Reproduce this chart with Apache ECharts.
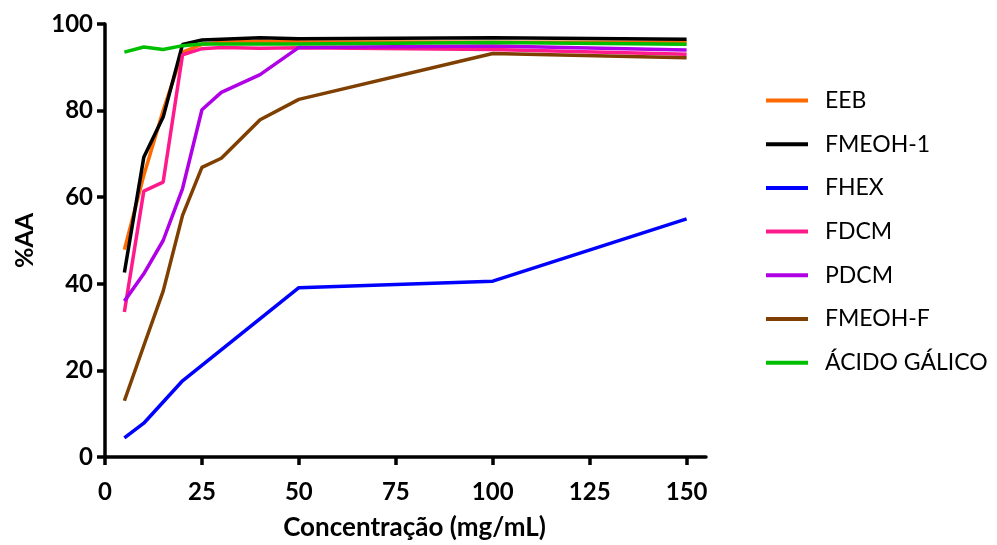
<!DOCTYPE html>
<html>
<head>
<meta charset="utf-8">
<script src="https://cdn.jsdelivr.net/npm/echarts@6/dist/echarts.min.js"></script>
<style>
  html, body { margin: 0; padding: 0; background: #fff; }
  #chart { width: 997px; height: 545px; }
</style>
</head>
<body>
<div id="chart"></div>
<script>
// Concentrations (mg/mL) and antioxidant activity (%AA) for each extract / fraction
const concentracao = [5, 10, 15, 20, 25, 30, 40, 50, 100, 150];
const xTicks = [0, 25, 50, 75, 100, 125, 150];

const eeb        = [47.9, 65.0, 80.0, 93.5, 95.3, 95.8, 96.0, 95.9, 95.8, 95.8];
const fmeoh1     = [42.6, 69.2, 78.5, 95.3, 96.3, 96.5, 96.8, 96.6, 96.8, 96.5];
const fhex       = [4.4, 7.8, null, 17.6, null, null, null, 39.1, 40.6, 55.0];
const fdcm       = [33.5, 61.4, 63.5, 92.9, 94.3, 94.6, 94.4, 94.5, 94.1, 93.0];
const pdcm       = [36.0, 42.3, 50.0, 62.0, 80.2, 84.2, 88.3, 94.6, 94.9, 94.0];
const fmeohF     = [13.0, 25.7, 38.3, 55.8, 66.9, 69.0, 77.9, 82.6, 93.2, 92.2];
const acidoGalico = [93.5, 94.7, 94.1, 95.0, 95.4, 95.4, 95.4, 95.4, 95.7, 95.3];

const seriesDefs = [
  { name: 'EEB', data: eeb, color: '#FF6A00' },
  { name: 'FMEOH-1', data: fmeoh1, color: '#000000' },
  { name: 'FHEX', data: fhex, color: '#0000FF' },
  { name: 'FDCM', data: fdcm, color: '#FF1A8C' },
  { name: 'PDCM', data: pdcm, color: '#B000E6' },
  { name: 'FMEOH-F', data: fmeohF, color: '#7F3F00' },
  { name: 'ÁCIDO GÁLICO', data: acidoGalico, color: '#00BF00' }
];

const fontFamily = 'Lato, "Open Sans", sans-serif';

const chart = echarts.init(document.getElementById('chart'));
chart.setOption({
  backgroundColor: '#ffffff',
  animation: false,
  grid: { left: 105, right: 291, top: 24, bottom: 88, outerBoundsMode: 'none', containLabel: false },
  legend: {
    orient: 'vertical',
    left: 761,
    top: 82,
    icon: 'rect',
    itemWidth: 42,
    itemHeight: 4,
    itemGap: 16.7,
    textStyle: { fontFamily: fontFamily, fontSize: 23, color: '#000', padding: [0, 0, 0, 12], lineHeight: 27 },
    data: seriesDefs.map(s => s.name)
  },
  xAxis: {
    type: 'value',
    min: 0,
    max: 155,
    interval: 25,
    name: 'Concentração (mg/mL)',
    nameLocation: 'middle',
    nameGap: 58,
    nameTextStyle: { fontFamily: fontFamily, fontWeight: 'bold', fontSize: 26, color: '#000', padding: [0, 0, 0, 18] },
    axisLine: { show: true, onZero: false, lineStyle: { color: '#000', width: 3.5 } },
    axisTick: { show: true, length: 8, lineStyle: { color: '#000', width: 3.5 }, customValues: xTicks },
    axisLabel: { fontFamily: fontFamily, fontWeight: 'bold', fontSize: 24, color: '#000', margin: 23, customValues: xTicks },
    splitLine: { show: false }
  },
  yAxis: {
    type: 'value',
    min: 0,
    max: 100,
    interval: 20,
    name: '%AA',
    nameLocation: 'middle',
    nameGap: 68,
    nameRotate: 90,
    nameTextStyle: { fontFamily: fontFamily, fontWeight: 'bold', fontSize: 25, color: '#000' },
    axisLine: { show: true, onZero: false, lineStyle: { color: '#000', width: 3.5 } },
    axisTick: { show: true, length: 8, lineStyle: { color: '#000', width: 3.5 } },
    axisLabel: { fontFamily: fontFamily, fontWeight: 'bold', fontSize: 24, color: '#000', margin: 12 },
    splitLine: { show: false }
  },
  series: seriesDefs.map(s => ({
    name: s.name,
    type: 'line',
    data: concentracao.map((c, i) => [c, s.data[i]]).filter(p => p[1] !== null),
    symbol: 'none',
    color: s.color,
    lineStyle: { width: 3.5, color: s.color },
    clip: false
  }))
});
</script>
</body>
</html>
